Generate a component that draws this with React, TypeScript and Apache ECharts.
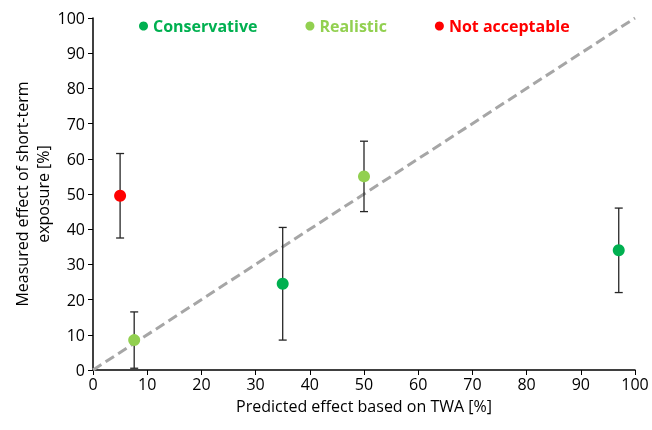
import React, { useEffect, useRef } from "react";
import * as echarts from "echarts";

const seriesNames = ["Conservative", "Realistic", "Not acceptable"];
const seriesColors = ["#00B050", "#92D050", "#FF0000"];
// [predicted, measured, low, high]
const conservative = [
  [35, 24.5, 8.5, 40.5],
  [97, 34, 22, 46],
];
const realistic = [
  [7.6, 8.5, 0.5, 16.5],
  [50, 55, 45, 65],
];
const notAcceptable = [[5, 49.5, 37.5, 61.5]];
const oneToOne = [
  [0, 0],
  [100, 100],
];

const font = "'Open Sans', 'Noto Sans', sans-serif";

export default function App() {
  const ref = useRef<HTMLDivElement>(null);
  useEffect(() => {
    if (!ref.current) return;
    const chart = echarts.init(ref.current, null, { renderer: "svg" });
    const groups = [conservative, realistic, notAcceptable];
    const allPoints = groups.flat();
    const errorSeries = {
      type: "custom",
      silent: true,
      z: 3,
      data: allPoints.map((p) => [p[0], p[2], p[3]]),
      renderItem: (params: any, api: any) => {
        const x = api.value(0);
        const lo = api.coord([x, api.value(1)]);
        const hi = api.coord([x, api.value(2)]);
        const cap = 4;
        const style = { stroke: "#262626", lineWidth: 1.3 };
        return {
          type: "group",
          children: [
            { type: "line", shape: { x1: lo[0], y1: lo[1], x2: hi[0], y2: hi[1] }, style },
            { type: "line", shape: { x1: lo[0] - cap, y1: lo[1], x2: lo[0] + cap, y2: lo[1] }, style },
            { type: "line", shape: { x1: hi[0] - cap, y1: hi[1], x2: hi[0] + cap, y2: hi[1] }, style },
          ],
        };
      },
    };
    const axisCommon = {
      type: "value",
      min: 0,
      max: 100,
      interval: 10,
      splitLine: { show: false },
      axisLine: { show: true, lineStyle: { color: "#000", width: 1.5 } },
      axisTick: { show: true, inside: false, length: 5, lineStyle: { color: "#000", width: 1 } },
      axisLabel: { color: "#000", fontSize: 16, fontFamily: font },
      nameTextStyle: { color: "#000", fontSize: 16, fontFamily: font },
    };
    chart.setOption({
      animation: false,
      grid: { left: 93, right: 17, top: 18, bottom: 60 },
      legend: {
        top: 13,
        left: 134,
        itemGap: 48,
        itemWidth: 9,
        itemHeight: 9,
        icon: "circle",
        data: seriesNames.map((n, i) => ({
          name: n,
          textStyle: { color: seriesColors[i], fontWeight: "bold", fontSize: 16, fontFamily: font },
        })),
      },
      xAxis: {
        ...axisCommon,
        name: "Predicted effect based on TWA [%]",
        nameLocation: "middle",
        nameGap: 28,
        nameMoveOverlap: false,
        nameTextStyle: { ...axisCommon.nameTextStyle, lineHeight: 16 },
        axisLabel: { ...axisCommon.axisLabel, margin: 6, lineHeight: 16 },
      },
      yAxis: {
        ...axisCommon,
        name: "Measured effect of short-term\nexposure [%]",
        nameLocation: "middle",
        nameGap: 40,
        nameMoveOverlap: false,
        nameTextStyle: { ...axisCommon.nameTextStyle, lineHeight: 21 },
        axisLabel: { ...axisCommon.axisLabel, margin: 8 },
      },
      series: [
        {
          type: "line",
          data: oneToOne,
          symbol: "none",
          silent: true,
          z: 1,
          lineStyle: { color: "#A6A6A6", width: 3, type: [10, 5] },
        },
        errorSeries,
        ...groups.map((g, i) => ({
          name: seriesNames[i],
          type: "scatter",
          z: 5,
          symbolSize: 12,
          itemStyle: { color: seriesColors[i], opacity: 1 },
          data: g.map((p) => [p[0], p[1]]),
        })),
      ],
    });
    return () => chart.dispose();
  }, []);
  return (
    <div
      ref={ref}
      style={{ width: 652, height: 430, position: "fixed", left: 0, top: 0 }}
    />
  );
}
